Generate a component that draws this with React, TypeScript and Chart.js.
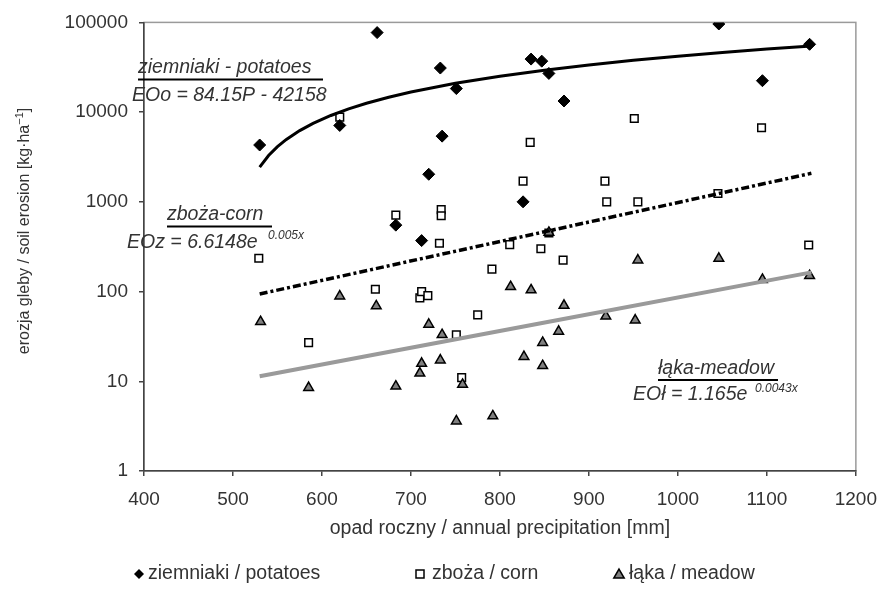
import React, { useEffect, useRef } from 'react';
import { Chart, registerables } from 'chart.js';

Chart.register(...registerables);

// ---- data ----
const potatoX = [530, 620, 662, 683, 712, 720, 733, 735, 751, 826, 835, 847, 855, 872, 1046, 1095, 1148];
const potatoY = [4300, 7100, 77000, 550, 370, 2030, 31000, 5400, 18300, 1000, 39000, 37000, 27000, 13300, 96000, 22400, 57000];

const cornX = [529, 585, 620, 660, 683, 710, 712, 719, 732, 734, 734, 751, 757, 775, 791, 811, 826, 834, 846, 855, 871, 918, 920, 951, 955, 1045, 1094, 1147];
const cornY = [235, 27, 8800, 106, 710, 85, 100, 90, 346, 820, 700, 33, 11, 55, 178, 334, 1700, 4600, 300, 450, 224, 1700, 1000, 8500, 1000, 1240, 6700, 330];

const meadowX = [531, 585, 620, 661, 683, 710, 712, 720, 733, 735, 751, 758, 792, 812, 827, 835, 848, 848, 855, 866, 872, 919, 952, 955, 1046, 1095, 1148];
const meadowY = [46, 8.5, 89, 69, 8.8, 12.3, 15.8, 43, 17.2, 33, 3.6, 9.2, 4.1, 113, 18.8, 104, 27, 14.9, 455, 36, 70, 53, 48, 224, 234, 136, 150];

// trend lines
const potatoLineX = [530, 540, 550, 560, 575, 590, 610, 630, 650, 675, 700, 750, 800, 850, 900, 950, 1000, 1050, 1100, 1150];
const potatoLineY = [2442, 3283, 4125, 4966, 6228, 7491, 9174, 10857, 12540, 14643, 16747, 20955, 25162, 29370, 33577, 37785, 41992, 46200, 50407, 54615];
const cornLineX = [530, 840, 1150];
const cornLineY = [94, 441, 2080];
const meadowLineX = [530, 840, 1150];
const meadowLineY = [11.4, 43.2, 163.7];

const yTickValues = [1, 10, 100, 1000, 10000, 100000];
const xMin = 400;
const xMax = 1200;
const xStep = 100;

const seriesLabels = ['ziemniaki / potatoes', 'zboża / corn', 'łąka / meadow'];
const xTitle = 'opad roczny / annual precipitation [mm]';
const yTitleMain = 'erozja gleby / soil erosion [kg·ha';
const yTitleSup = '−1';
const yTitleEnd = ']';

const FONT = '"Liberation Sans", Arial, Helvetica, sans-serif';
const TEXT = '#333333';

const pts = (xs: number[], ys: number[]) => xs.map((x, i) => ({ x, y: ys[i] }));

function diamond(ctx: CanvasRenderingContext2D, x: number, y: number, r: number) {
  ctx.beginPath();
  ctx.moveTo(x - r, y);
  ctx.lineTo(x, y - r);
  ctx.lineTo(x + r, y);
  ctx.lineTo(x, y + r);
  ctx.closePath();
  ctx.fillStyle = '#000';
  ctx.fill();
}
function square(ctx: CanvasRenderingContext2D, x: number, y: number, s: number) {
  ctx.fillStyle = '#fff';
  ctx.strokeStyle = '#000';
  ctx.lineWidth = 1.5;
  ctx.fillRect(x - s / 2, y - s / 2, s, s);
  ctx.strokeRect(x - s / 2, y - s / 2, s, s);
}
function triangle(ctx: CanvasRenderingContext2D, x: number, y: number, r: number) {
  ctx.beginPath();
  ctx.moveTo(x, y - r);
  ctx.lineTo(x + r * 0.866, y + r * 0.5);
  ctx.lineTo(x - r * 0.866, y + r * 0.5);
  ctx.closePath();
  ctx.fillStyle = '#808080';
  ctx.fill();
  ctx.strokeStyle = '#000';
  ctx.lineWidth = 1.5;
  ctx.stroke();
}

const decorPlugin = {
  id: 'decor',
  beforeDraw(chart: any) {
    const { ctx, chartArea: a } = chart;
    ctx.save();
    ctx.fillStyle = '#fff';
    ctx.fillRect(0, 0, chart.width, chart.height);
    ctx.strokeStyle = '#9a9a9a';
    ctx.lineWidth = 1.5;
    ctx.strokeRect(a.left, a.top, a.right - a.left, a.bottom - a.top);
    ctx.restore();
  },
  afterDraw(chart: any) {
    const { ctx, chartArea: a } = chart;
    ctx.save();
    ctx.textBaseline = 'middle';
    ctx.textAlign = 'left';

    const it = `italic 19.5px ${FONT}`;
    const sup = `italic 12px ${FONT}`;
    const under = (x1: number, x2: number, y: number) => {
      ctx.strokeStyle = '#000';
      ctx.lineWidth = 2;
      ctx.beginPath();
      ctx.moveTo(x1, y);
      ctx.lineTo(x2, y);
      ctx.stroke();
    };
    ctx.fillStyle = TEXT;
    // potatoes
    ctx.font = it;
    ctx.fillText('ziemniaki - potatoes', 138, 68);
    under(138, 323, 79.5);
    ctx.fillText('EOo = 84.15P - 42158', 132, 96);
    // corn
    ctx.fillText('zboża-corn', 167, 215);
    under(167, 272, 226.5);
    ctx.fillText('EOz = 6.6148e', 127, 243);
    ctx.font = sup;
    ctx.fillText('0.005x', 268, 236);
    // meadow
    ctx.font = it;
    ctx.fillText('łąka-meadow', 658, 369);
    under(658, 778, 380);
    ctx.fillText('EOł = 1.165e', 633, 395);
    ctx.font = sup;
    ctx.fillText('0.0043x', 755, 389);

    // x title
    ctx.font = `19.5px ${FONT}`;
    ctx.textAlign = 'center';
    ctx.fillStyle = TEXT;
    ctx.fillText(xTitle, (a.left + a.right) / 2, 529);

    // y title (rotated)
    ctx.save();
    ctx.translate(25, 231);
    ctx.rotate(-Math.PI / 2);
    ctx.textAlign = 'left';
    const mainFont = `16px ${FONT}`;
    const supFont = `11px ${FONT}`;
    ctx.font = mainFont;
    const w1 = ctx.measureText(yTitleMain).width;
    const w3 = ctx.measureText(yTitleEnd).width;
    ctx.font = supFont;
    const w2 = ctx.measureText(yTitleSup).width;
    let x0 = -(w1 + w2 + w3) / 2;
    ctx.font = mainFont;
    ctx.fillText(yTitleMain, x0, 0);
    x0 += w1;
    ctx.font = supFont;
    ctx.fillText(yTitleSup, x0, -5);
    x0 += w2;
    ctx.font = mainFont;
    ctx.fillText(yTitleEnd, x0, 0);
    ctx.restore();

    // legend
    const ly = 574;
    ctx.font = `19.5px ${FONT}`;
    ctx.textAlign = 'left';
    diamond(ctx, 139, ly, 5);
    ctx.fillStyle = TEXT;
    ctx.fillText(seriesLabels[0], 148, ly);
    square(ctx, 420, ly, 8);
    ctx.fillStyle = TEXT;
    ctx.fillText(seriesLabels[1], 432, ly);
    triangle(ctx, 619, ly + 1, 6);
    ctx.fillStyle = TEXT;
    ctx.fillText(seriesLabels[2], 629, ly);
    ctx.restore();
  },
};

export default function App() {
  const ref = useRef<HTMLCanvasElement>(null);
  useEffect(() => {
    const chart = new Chart(ref.current as HTMLCanvasElement, {
      type: 'scatter',
      data: {
        datasets: [
          {
            label: 'trend potatoes',
            data: pts(potatoLineX, potatoLineY),
            showLine: true,
            borderColor: '#000',
            borderWidth: 3,
            pointRadius: 0,
            tension: 0,
          },
          {
            label: 'trend corn',
            data: pts(cornLineX, cornLineY),
            showLine: true,
            borderColor: '#000',
            borderWidth: 3.5,
            borderDash: [8, 3, 3, 3],
            pointRadius: 0,
          },
          {
            label: 'trend meadow',
            data: pts(meadowLineX, meadowLineY),
            showLine: true,
            borderColor: '#9a9a9a',
            borderWidth: 4,
            pointRadius: 0,
          },
          {
            label: seriesLabels[0],
            data: pts(potatoX, potatoY),
            pointStyle: 'rectRot',
            pointRadius: 6,
            backgroundColor: '#000',
            borderColor: '#000',
            borderWidth: 1,
          },
          {
            label: seriesLabels[2],
            data: pts(meadowX, meadowY),
            pointStyle: 'triangle',
            pointRadius: 5.6,
            backgroundColor: '#808080',
            borderColor: '#000',
            borderWidth: 1.5,
          },
          {
            label: seriesLabels[1],
            data: pts(cornX, cornY),
            pointStyle: 'rect',
            pointRadius: 5.4,
            backgroundColor: '#fff',
            borderColor: '#000',
            borderWidth: 1.5,
          },
        ],
      },
      options: {
        animation: false,
        responsive: false,
        devicePixelRatio: 1,
        layout: { padding: { top: 22, right: 25, left: 0, bottom: 0 } },
        plugins: { legend: { display: false }, tooltip: { enabled: false } },
        scales: {
          x: {
            type: 'linear',
            min: xMin,
            max: xMax,
            ticks: {
              stepSize: xStep,
              color: TEXT,
              font: { family: FONT, size: 19 },
              padding: 12,
              callback: (v: any) => String(v),
            },
            grid: { drawOnChartArea: false, drawTicks: true, tickLength: 5, color: '#444', lineWidth: 1.5 },
            border: { display: true, color: '#444', width: 1.5 },
            afterFit: (s: any) => {
              s.height = 594 - 471;
            },
          },
          y: {
            type: 'logarithmic',
            min: 1,
            max: 100000,
            afterBuildTicks: (s: any) => {
              s.ticks = yTickValues.map((v) => ({ value: v }));
            },
            ticks: {
              color: TEXT,
              font: { family: FONT, size: 19 },
              padding: 11,
              autoSkip: false,
              callback: (v: any) => String(v),
            },
            grid: { drawOnChartArea: false, drawTicks: true, tickLength: 5, color: '#444', lineWidth: 1.5 },
            border: { display: true, color: '#444', width: 1.5 },
            afterFit: (s: any) => {
              s.width = 144;
            },
          },
        },
      },
      plugins: [decorPlugin],
    });
    return () => chart.destroy();
  }, []);
  return (
    <div style={{ position: 'fixed', left: 0, top: 0, width: 889, height: 594, background: '#fff' }}>
      <canvas ref={ref} width={889} height={594} style={{ width: 889, height: 594, display: 'block' }} />
    </div>
  );
}
